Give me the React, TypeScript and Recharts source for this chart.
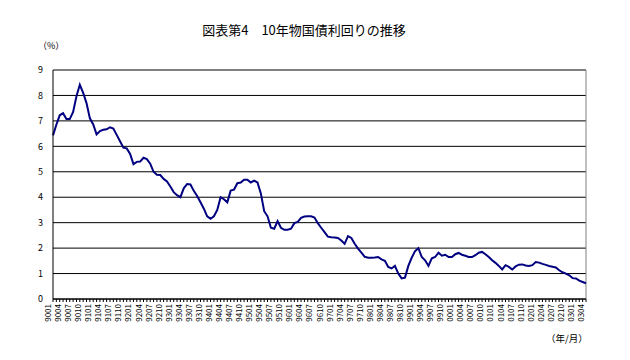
import React from "react";
import { LineChart, Line, XAxis, YAxis, CartesianGrid, ReferenceLine } from "recharts";

// 10-year JGB yield, monthly from 1990/01 to 2003/04 (%)
const yields: number[] = [
  6.43, 6.85, 7.22, 7.3, 7.07, 7.07, 7.35, 7.97, 8.42, 8.1, 7.7, 7.1,
  6.86, 6.47, 6.6, 6.65, 6.67, 6.75, 6.7, 6.45, 6.2, 5.95, 5.92, 5.7,
  5.3, 5.39, 5.4, 5.55, 5.5, 5.32, 5.0, 4.88, 4.87, 4.72, 4.62, 4.42,
  4.2, 4.08, 4.0, 4.35, 4.52, 4.5, 4.25, 4.05, 3.8, 3.55, 3.25, 3.15,
  3.25, 3.5, 4.0, 3.92, 3.8, 4.26, 4.3, 4.55, 4.58, 4.69, 4.69, 4.58,
  4.65, 4.58, 4.15, 3.45, 3.25, 2.8, 2.76, 3.06, 2.8, 2.72, 2.72, 2.76,
  2.98, 3.03, 3.19, 3.24, 3.25, 3.25, 3.2, 2.98, 2.8, 2.63, 2.45, 2.43,
  2.42, 2.4, 2.3, 2.17, 2.47, 2.4, 2.17, 1.98, 1.82, 1.66, 1.62, 1.62,
  1.63, 1.65, 1.56, 1.5, 1.26, 1.2, 1.3, 1.0, 0.81, 0.84, 1.3, 1.62,
  1.88, 2.0, 1.65, 1.52, 1.3, 1.6, 1.65, 1.82, 1.7, 1.74, 1.65, 1.65,
  1.76, 1.81, 1.74, 1.7, 1.65, 1.65, 1.72, 1.82, 1.85, 1.76, 1.65, 1.52,
  1.42, 1.3, 1.16, 1.33, 1.26, 1.16, 1.28, 1.35, 1.36, 1.32, 1.3, 1.33,
  1.45, 1.43, 1.38, 1.34, 1.3, 1.27, 1.24, 1.13, 1.05, 1.0, 0.93, 0.82,
  0.81, 0.72, 0.67, 0.62,
];

// category labels "YYMM" starting 9001
const pad = (n: number) => (n < 10 ? "0" + n : String(n));
const monthLabels: string[] = yields.map((_, i) => pad((90 + Math.floor(i / 12)) % 100) + pad((i % 12) + 1));

const yTicks = [0, 1, 2, 3, 4, 5, 6, 7, 8, 9];

const data = monthLabels.map((label, i) => ({ label, value: yields[i] }));

const FONT = "'Noto Sans CJK JP', 'DejaVu Sans', sans-serif";

function MonthTick(props: any) {
  const { x, y, payload, index } = props;
  const tx = x - 2;
  const ty = y + 5;
  return (
    <g>
      <line x1={x} y1={y} x2={x} y2={y + 3} stroke="#000" strokeWidth={1} />
      {index % 3 === 0 && (
        <text
          x={tx}
          y={ty}
          transform={`rotate(-90 ${tx} ${ty})`}
          textAnchor="end"
          fontSize={8}
          fontFamily={FONT}
          fill="#000"
        >
          {payload.value}
        </text>
      )}
    </g>
  );
}

export default function App() {
  return (
    <div style={{ position: "absolute", left: 0, top: 0, width: 630, height: 360, background: "#fff", fontFamily: FONT }}>
      <div style={{ position: "absolute", left: 0, top: 22, width: 608, textAlign: "center", fontSize: 13, lineHeight: "16px" }}>
        図表第4　10年物国債利回りの推移
      </div>
      <div style={{ position: "absolute", left: 38, top: 40, fontSize: 9, lineHeight: "12px" }}>（%）</div>
      <div style={{ position: "absolute", left: 546, top: 332, fontSize: 9.5, lineHeight: "12px" }}>（年/月）</div>
      <LineChart
        width={630}
        height={360}
        data={data}
        margin={{ top: 70, right: 44, bottom: 0, left: 33 }}
      >
        <CartesianGrid vertical={false} stroke="#000" strokeWidth={1} />
        <XAxis
          dataKey="label"
          interval={0}
          tickSize={0}
          tickMargin={0}
          height={61}
          axisLine={{ stroke: "#000" }}
          tick={(p: any) => <MonthTick {...p} />}
        />
        <YAxis
          domain={[0, 9]}
          ticks={yTicks}
          width={20}
          tickLine={false}
          tickSize={6}
          tickMargin={4}
          axisLine={{ stroke: "#000" }}
          tick={{ fontSize: 9, fill: "#000", fontFamily: FONT }}
        />
        <ReferenceLine x={monthLabels[monthLabels.length - 1]} stroke="#808080" />
        <Line
          type="linear"
          dataKey="value"
          stroke="#000080"
          strokeWidth={2}
          dot={false}
          isAnimationActive={false}
        />
      </LineChart>
    </div>
  );
}
